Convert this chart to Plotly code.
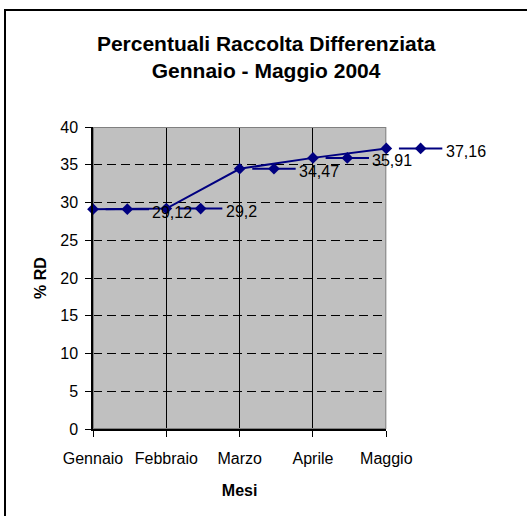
import plotly.graph_objects as go

months = ["Gennaio", "Febbraio", "Marzo", "Aprile", "Maggio"]
values = [29.12, 29.2, 34.47, 35.91, 37.16]
value_labels = ["29,12", "29,2", "34,47", "35,91", "37,16"]
y_ticks = [0, 5, 10, 15, 20, 25, 30, 35, 40]

NAVY = "#000080"
FONT = "Liberation Sans, Arial, sans-serif"

W, H = 527, 516
ML, MR, MT, MB = 93, 0, 127, 87
PLOT_R = 405                     # right edge of the visible plot area (px)
full_w = W - ML - MR
plot_w = PLOT_R - ML
n = len(months)
px_per_cat = plot_w / (n - 1)
x2_max = (n - 1) * full_w / plot_w   # overlay axis with the same scale

x_idx = list(range(n))
key_off = 36.5 / px_per_cat      # legend-key diamond offset
text_off = 61 / px_per_cat       # label text offset

fig = go.Figure()

# main series
fig.add_trace(go.Scatter(
    x=x_idx, y=values, mode="lines+markers",
    line=dict(color=NAVY, width=2),
    marker=dict(symbol="diamond", size=9, color=NAVY),
    cliponaxis=False, showlegend=False, hoverinfo="skip"))

# legend keys inside the data labels (line segment + diamond), on an
# invisible overlay subplot that extends into the right margin
key_x = [i + key_off for i in x_idx]
fig.add_trace(go.Scatter(
    x=key_x, y=values, mode="markers", xaxis="x2", yaxis="y2",
    marker=dict(symbol="line-ew", size=31, color=NAVY,
                line=dict(color=NAVY, width=2)),
    cliponaxis=False, showlegend=False, hoverinfo="skip"))
fig.add_trace(go.Scatter(
    x=key_x, y=values, mode="markers", xaxis="x2", yaxis="y2",
    marker=dict(symbol="diamond", size=9, color=NAVY),
    cliponaxis=False, showlegend=False, hoverinfo="skip"))

for i, v, lab in zip(x_idx, values, value_labels):
    fig.add_annotation(x=i + text_off, y=v, xref="x2", yref="y2",
                       text=lab, showarrow=False, xanchor="left",
                       yanchor="middle", yshift=-3,
                       font=dict(family=FONT, size=16, color="black"))

# gray plot area fill (below gridlines) and gray border (above gridlines)
fig.add_shape(type="rect", xref="x", yref="y", x0=0, x1=n - 1, y0=0, y1=40,
              fillcolor="#C0C0C0", line=dict(width=0), layer="below")
fig.add_shape(type="rect", xref="x", yref="y", x0=0, x1=n - 1, y0=0, y1=40,
              line=dict(color="#808080", width=2), layer="between")
# outer chart frame
fig.add_shape(type="rect", xref="paper", yref="paper",
              xsizemode="pixel", xanchor=0, x0=5 - ML, x1=W + 10 - ML,
              ysizemode="pixel", yanchor=1, y0=MT - 10, y1=MT - H - 10,
              line=dict(color="black", width=2), layer="above")

fig.update_layout(
    width=W, height=H,
    margin=dict(l=ML, r=MR, t=MT, b=MB),
    paper_bgcolor="white", plot_bgcolor="rgba(0,0,0,0)",
    font=dict(family=FONT, size=16, color="black"),
    title=dict(text="<b>Percentuali Raccolta Differenziata<br>Gennaio - Maggio 2004</b>",
               x=0.505, xanchor="center", y=1 - 51 / H, yanchor="middle",
               font=dict(family=FONT, size=21, color="black")),
    showlegend=False,
    xaxis=dict(
        domain=[0, plot_w / full_w],
        range=[0, n - 1], tickvals=x_idx, ticktext=months,
        showgrid=True, gridcolor="black", gridwidth=1, zeroline=False,
        showline=True, linecolor="black", linewidth=2,
        ticks="outside", ticklen=6, tickcolor="black", tickwidth=1,
        ticklabelstandoff=8,
        tickfont=dict(family=FONT, size=16, color="black"),
        title=dict(text="<b>Mesi</b>", standoff=19,
                   font=dict(family=FONT, size=16, color="black")),
    ),
    yaxis=dict(
        range=[0, 40], tickvals=y_ticks,
        showgrid=True, gridcolor="black", gridwidth=1, griddash="9px,5px",
        zeroline=False,
        showline=True, linecolor="black", linewidth=1.5,
        ticks="outside", ticklen=6, tickcolor="black", tickwidth=1,
        ticklabelstandoff=4,
        tickfont=dict(family=FONT, size=16, color="black"),
        title=dict(text="<b>% RD</b>", standoff=10,
                   font=dict(family=FONT, size=16, color="black")),
    ),
    xaxis2=dict(domain=[0, 1], range=[0, x2_max], anchor="y2", visible=False,
                fixedrange=True),
    yaxis2=dict(domain=[0, 1], range=[0, 40], anchor="x2", visible=False,
                fixedrange=True),
)

fig.write_html("out.html", config={"displayModeBar": False},
               post_script="document.body.style.margin='0';")
